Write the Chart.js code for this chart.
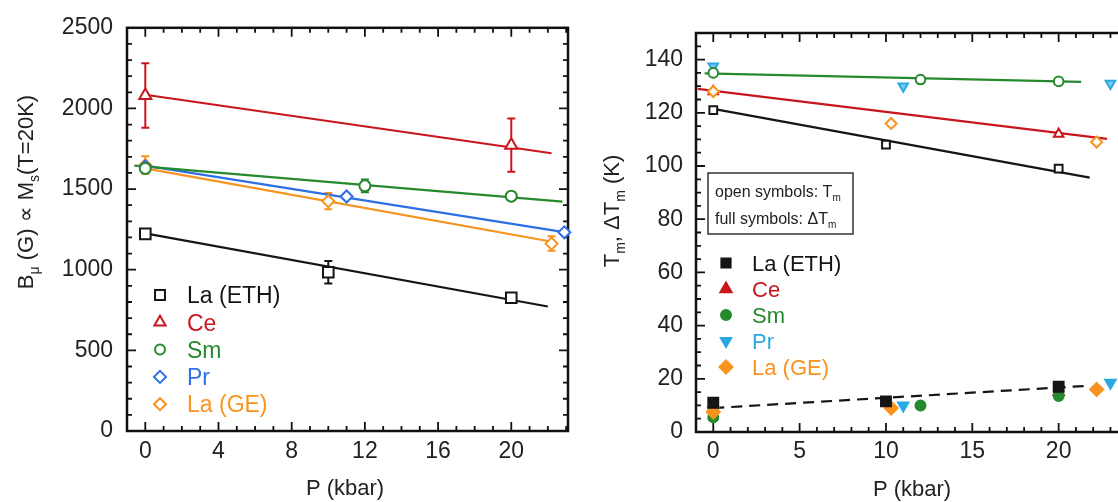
<!DOCTYPE html>
<html lang="en">
<head>
  <meta charset="UTF-8" />
  <title>B_mu and T_m versus pressure</title>
  <script src="https://cdn.jsdelivr.net/npm/chart.js"></script>
  <style>
    html, body {
      margin: 0;
      padding: 0;
      background: #fff;
      width: 1118px;
      height: 502px;
      overflow: hidden;
    }
    #leftChart { position: absolute; left: 0; top: 0; }
    #rightChart { position: absolute; left: 580px; top: 0; }
  </style>
</head>
<body>
  <canvas id="leftChart" width="580" height="502"></canvas>
  <canvas id="rightChart" width="590" height="502"></canvas>

  <script>
    // ---------- shared ----------
    const seriesNames = ["La (ETH)", "Ce", "Sm", "Pr", "La (GE)"];
    const leftColors = ["#151515", "#c8161d", "#25892d", "#2f6fe6", "#f7931e"];
    const rightColors = ["#151515", "#c8161d", "#25892d", "#29a9e1", "#f7931e"];
    const FONT = '"Liberation Sans", Arial, sans-serif';

    // ---------- left panel: B_mu (G) vs P (kbar) ----------
    const leftXTicks = [0, 4, 8, 12, 16, 20];
    const leftYTicks = [0, 500, 1000, 1500, 2000, 2500];

    const bLaEthP = [0, 10, 20];
    const bLaEth = [1222, 984, 826];
    const bLaEthErr = [15, 70, 20];
    const bCeP = [0, 20];
    const bCe = [2080, 1772];
    const bCeErr = [200, 165];
    const bSmP = [0, 12, 20];
    const bSm = [1628, 1520, 1456];
    const bSmErr = [15, 40, 15];
    const bPrP = [0, 11, 22.9];
    const bPr = [1640, 1454, 1232];
    const bPrErr = [15, 15, 15];
    const bLaGeP = [0, 10, 22.2];
    const bLaGe = [1648, 1425, 1162];
    const bLaGeErr = [55, 50, 45];

    // linear fits (end points)
    const fitLaEthP = [0, 22], fitLaEth = [1225, 772];
    const fitCeP = [0, 22.2], fitCe = [2085, 1722];
    const fitSmP = [-0.6, 22.8], fitSm = [1645, 1422];
    const fitPrP = [0, 22.8], fitPr = [1645, 1235];
    const fitLaGeP = [0, 22.3], fitLaGe = [1628, 1172];

    // ---------- right panel: T_m, dT_m (K) vs P (kbar) ----------
    const rightXTicks = [0, 5, 10, 15, 20, 25];
    const rightYTicks = [0, 20, 40, 60, 80, 100, 120, 140];

    const tLaEthP = [0, 10, 20];
    const tLaEth = [121, 108, 99];
    const dtLaEth = [11, 11.5, 17];
    const tCeP = [0, 20];
    const tCe = [128, 112];
    const dtCe = [9, 15];
    const tSmP = [0, 12, 20];
    const tSm = [135, 132.5, 131.8];
    const dtSm = [5.5, 10, 13.5];
    const tPrP = [0, 11, 23];
    const tPr = [137.5, 130, 131];
    const dtPr = [8, 10, 18.5];
    const tLaGeP = [0, 10.3, 22.2];
    const tLaGe = [128, 116, 109];
    const dtLaGe = [7.5, 9, 16];

    const fitTLaEthP = [0, 21.8], fitTLaEth = [121.5, 95.6];
    const fitTCeP = [-0.9, 22.8], fitTCe = [129, 110.2];
    const fitTSmP = [-0.5, 21.3], fitTSm = [134.8, 131.6];
    const fitDtP = [0, 21.5], fitDt = [9, 17.3];

    const pts = (xs, ys) => xs.map((x, i) => ({ x: x, y: ys[i] }));

    // draws text with subscript parts, centred on (x, y)
    function drawRich(ctx, parts, x, y, rot, size, color, align) {
      ctx.save();
      ctx.translate(x, y);
      ctx.rotate(rot || 0);
      ctx.fillStyle = color;
      ctx.textBaseline = "alphabetic";
      ctx.textAlign = "left";
      const widths = parts.map(p => {
        ctx.font = (p.sub ? Math.round(size * 0.62) : size) + "px " + FONT;
        return ctx.measureText(p.t).width;
      });
      const total = widths.reduce((a, b) => a + b, 0);
      let cx = align === "left" ? 0 : -total / 2;
      parts.forEach((p, i) => {
        ctx.font = (p.sub ? Math.round(size * 0.62) : size) + "px " + FONT;
        ctx.fillText(p.t, cx, size * 0.36 + (p.sub ? size * 0.28 : 0));
        cx += widths[i];
      });
      ctx.restore();
    }

    // frame + inward major/minor ticks, error bars
    const framePlugin = {
      id: "frame",
      beforeDatasetsDraw(chart, args, o) {
        const { ctx, chartArea: a, scales } = chart;
        const x = scales.x, y = scales.y;
        ctx.save();
        ctx.strokeStyle = "#111";
        ctx.lineWidth = 2.5;
        ctx.strokeRect(a.left, a.top, a.right - a.left, a.bottom - a.top);
        ctx.lineWidth = 1.8;
        ctx.beginPath();
        for (let k = Math.ceil(x.min / o.xMinor); k * o.xMinor <= x.max + 1e-9; k++) {
          const v = k * o.xMinor;
          const len = Math.abs(v % o.xMajor) < 1e-9 ? 9 : 5;
          const px = x.getPixelForValue(v);
          ctx.moveTo(px, a.bottom); ctx.lineTo(px, a.bottom - len);
          ctx.moveTo(px, a.top); ctx.lineTo(px, a.top + len);
        }
        for (let k = Math.ceil(y.min / o.yMinor); k * o.yMinor <= y.max + 1e-9; k++) {
          const v = k * o.yMinor;
          const len = Math.abs(v % o.yMajor) < 1e-9 ? 9 : 5;
          const py = y.getPixelForValue(v);
          ctx.moveTo(a.left, py); ctx.lineTo(a.left + len, py);
          ctx.moveTo(a.right, py); ctx.lineTo(a.right - len, py);
        }
        ctx.stroke();

        // error bars
        chart.data.datasets.forEach(ds => {
          if (!ds.errors) return;
          ctx.strokeStyle = ds.borderColor;
          ctx.lineWidth = 2;
          ctx.beginPath();
          ds.data.forEach((d, i) => {
            const e = ds.errors[i];
            const px = x.getPixelForValue(d.x);
            const top = y.getPixelForValue(d.y + e);
            const bot = y.getPixelForValue(d.y - e);
            ctx.moveTo(px, top); ctx.lineTo(px, bot);
            ctx.moveTo(px - 4, top); ctx.lineTo(px + 4, top);
            ctx.moveTo(px - 4, bot); ctx.lineTo(px + 4, bot);
          });
          ctx.stroke();
        });
        ctx.restore();
      },
      afterDraw(chart, args, o) {
        const ctx = chart.ctx;
        // axis titles
        o.titles.forEach(t => drawRich(ctx, t.parts, t.x, t.y, t.rot, t.size, "#222"));
        // legend
        const L = o.legend;
        seriesNames.forEach((name, i) => {
          const yy = L.y + i * L.dy;
          const st = L.styles[i];
          ctx.save();
          ctx.strokeStyle = L.colors[i];
          ctx.fillStyle = L.filled ? L.colors[i] : "#fff";
          ctx.lineWidth = 2;
          Chart.helpers.drawPoint(ctx, { pointStyle: st.style, radius: st.r, rotation: st.rot || 0, borderWidth: 2 }, L.x, yy);
          ctx.restore();
          drawRich(ctx, [{ t: name }], L.tx, yy, 0, L.size, L.colors[i], "left");
        });
        // optional note box
        if (o.note) {
          const n = o.note;
          ctx.save();
          ctx.strokeStyle = "#333";
          ctx.lineWidth = 1.5;
          ctx.strokeRect(n.x, n.y, n.w, n.h);
          ctx.restore();
          n.lines.forEach((ln, i) => drawRich(ctx, ln, n.x + 7, n.y + 18 + i * 27, 0, 16, "#222", "left"));
        }
      }
    };

    function axisCfg(min, max, ticks, size, pad, extra) {
      return Object.assign({
        type: "linear",
        min: min,
        max: max,
        grid: { display: false, drawTicks: false },
        border: { display: false },
        ticks: {
          color: "#222", font: { family: FONT, size: size }, padding: pad,
          callback: v => String(v)
        },
        afterBuildTicks: s => { s.ticks = ticks.map(v => ({ value: v })); }
      }, extra);
    }

    function fitSet(xs, ys, color, dash) {
      return {
        data: pts(xs, ys), showLine: true, pointRadius: 0, borderColor: color,
        borderWidth: 2.2, borderDash: dash || [], order: 5, clip: false
      };
    }
    function pointSet(label, xs, ys, color, style, r, filled, errs, rot) {
      return {
        label: label, data: pts(xs, ys), showLine: false, pointStyle: style,
        pointRadius: r, pointRotation: rot || 0, pointBorderWidth: 2,
        borderColor: color, pointBorderColor: color,
        pointBackgroundColor: filled || "#fff", errors: errs, order: 1, clip: false
      };
    }

    // ---------- left chart ----------
    new Chart(document.getElementById("leftChart"), {
      type: "scatter",
      data: {
        datasets: [
          fitSet(fitLaEthP, fitLaEth, leftColors[0]),
          fitSet(fitCeP, fitCe, leftColors[1]),
          fitSet(fitSmP, fitSm, leftColors[2]),
          fitSet(fitPrP, fitPr, leftColors[3]),
          fitSet(fitLaGeP, fitLaGe, leftColors[4]),
          pointSet(seriesNames[0], bLaEthP, bLaEth, leftColors[0], "rect", 7.5, null, bLaEthErr),
          pointSet(seriesNames[1], bCeP, bCe, leftColors[1], "triangle", 7, null, bCeErr),
          pointSet(seriesNames[2], bSmP, bSm, leftColors[2], "circle", 5.5, null, bSmErr),
          pointSet(seriesNames[3], bPrP, bPr, leftColors[3], "rectRot", 6, null, bPrErr),
          pointSet(seriesNames[4], bLaGeP, bLaGe, leftColors[4], "rectRot", 6, null, bLaGeErr)
        ]
      },
      options: {
        responsive: false,
        animation: false,
        layout: { padding: { left: 0, top: 23, right: 12, bottom: 0 } },
        scales: {
          x: axisCfg(-1, 23.1, leftXTicks, 23, 7, { afterFit: s => { s.height = 71; } }),
          y: axisCfg(0, 2500, leftYTicks, 23, 14, { afterFit: s => { s.width = 127; } })
        },
        plugins: {
          legend: { display: false },
          tooltip: { enabled: false },
          frame: {
            xMinor: 1, xMajor: 4, yMinor: 100, yMajor: 500,
            titles: [
              { parts: [{ t: "P (kbar)" }], x: 345, y: 487, rot: 0, size: 22 },
              {
                parts: [{ t: "B" }, { t: "\u03bc", sub: true }, { t: " (G) \u221d M" }, { t: "s", sub: true }, { t: "(T=20K)" }],
                x: 25, y: 192, rot: -Math.PI / 2, size: 22
              }
            ],
            legend: {
              x: 160, tx: 187, y: 295, dy: 27.3, size: 23, colors: leftColors, filled: false,
              styles: [
                { style: "rect", r: 7 }, { style: "triangle", r: 6.5 }, { style: "circle", r: 5 },
                { style: "rectRot", r: 6 }, { style: "rectRot", r: 6 }
              ]
            }
          }
        }
      },
      plugins: [framePlugin]
    });

    // ---------- right chart ----------
    new Chart(document.getElementById("rightChart"), {
      type: "scatter",
      data: {
        datasets: [
          fitSet(fitTLaEthP, fitTLaEth, rightColors[0]),
          fitSet(fitTCeP, fitTCe, rightColors[1]),
          fitSet(fitTSmP, fitTSm, rightColors[2]),
          fitSet(fitDtP, fitDt, rightColors[0], [11, 7]),
          // full symbols: dT_m
          pointSet(seriesNames[0] + " dTm", tLaEthP, dtLaEth, rightColors[0], "rect", 7, rightColors[0]),
          pointSet(seriesNames[4] + " dTm", tLaGeP, dtLaGe, rightColors[4], "rectRot", 6.5, rightColors[4]),
          pointSet(seriesNames[3] + " dTm", tPrP, dtPr, rightColors[3], "triangle", 6, rightColors[3], null, 180),
          pointSet(seriesNames[2] + " dTm", tSmP, dtSm, rightColors[2], "circle", 5, rightColors[2]),
          pointSet(seriesNames[1] + " dTm", tCeP, dtCe, rightColors[1], "triangle", 6, rightColors[1]),
          // open symbols: T_m
          pointSet(seriesNames[4], tLaGeP, tLaGe, rightColors[4], "rectRot", 5.5, null),
          pointSet(seriesNames[0], tLaEthP, tLaEth, rightColors[0], "rect", 5.5, null),
          pointSet(seriesNames[2], tSmP, tSm, rightColors[2], "circle", 4.8, null),
          pointSet(seriesNames[3], tPrP, tPr, rightColors[3], "triangle", 5.5, "#7ccaf0", null, 180),
          pointSet(seriesNames[1], tCeP, tCe, rightColors[1], "triangle", 5.5, null)
        ]
      },
      options: {
        responsive: false,
        animation: false,
        layout: { padding: { left: 0, top: 33, right: 25, bottom: 0 } },
        scales: {
          x: axisCfg(-1, 25, rightXTicks, 23, 6, { afterFit: s => { s.height = 70; } }),
          y: axisCfg(0, 150, rightYTicks, 23, 13, { afterFit: s => { s.width = 116; } })
        },
        plugins: {
          legend: { display: false },
          tooltip: { enabled: false },
          frame: {
            xMinor: 1, xMajor: 5, yMinor: 5, yMajor: 20,
            titles: [
              { parts: [{ t: "P (kbar)" }], x: 332, y: 488, rot: 0, size: 22 },
              {
                parts: [{ t: "T" }, { t: "m", sub: true }, { t: ", \u0394T" }, { t: "m", sub: true }, { t: " (K)" }],
                x: 31, y: 211, rot: -Math.PI / 2, size: 22
              }
            ],
            legend: {
              x: 146, tx: 172, y: 263, dy: 26, size: 22, colors: rightColors, filled: true,
              styles: [
                { style: "rect", r: 6.5 }, { style: "triangle", r: 6.5 }, { style: "circle", r: 5 },
                { style: "triangle", r: 6, rot: 180 }, { style: "rectRot", r: 6.5 }
              ]
            },
            note: {
              x: 128, y: 173, w: 145, h: 61,
              lines: [
                [{ t: "open symbols: T" }, { t: "m", sub: true }],
                [{ t: "full symbols: \u0394T" }, { t: "m", sub: true }]
              ]
            }
          }
        }
      },
      plugins: [framePlugin]
    });
  </script>
</body>
</html>
